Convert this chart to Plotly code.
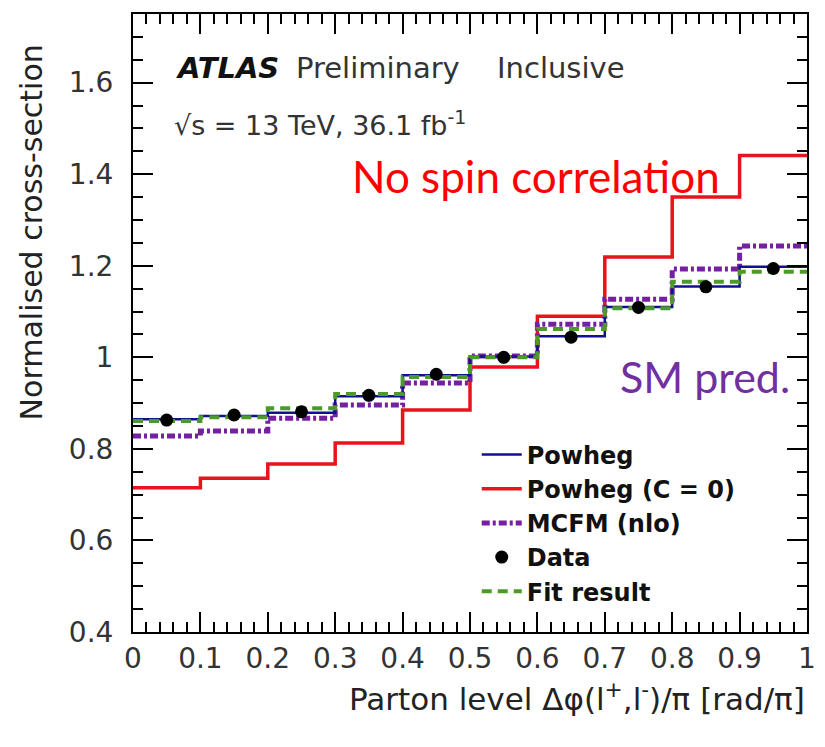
import plotly.graph_objects as go

# ---- data ----
bin_edges = [0.0, 0.1, 0.2, 0.3, 0.4, 0.5, 0.6, 0.7, 0.8, 0.9, 1.0]
bin_centers = [0.05, 0.15, 0.25, 0.35, 0.45, 0.55, 0.65, 0.75, 0.85, 0.95]

powheg = [0.865, 0.872, 0.879, 0.915, 0.961, 1.002, 1.046, 1.110, 1.155, 1.198]
powheg_c0 = [0.715, 0.736, 0.767, 0.813, 0.885, 0.979, 1.090, 1.219, 1.350, 1.441]
mcfm = [0.828, 0.839, 0.867, 0.896, 0.944, 1.003, 1.072, 1.127, 1.193, 1.243]
fit_result = [0.861, 0.869, 0.889, 0.920, 0.957, 1.000, 1.062, 1.107, 1.165, 1.187]
data_vals = [0.863, 0.874, 0.881, 0.917, 0.963, 1.000, 1.044, 1.109, 1.154, 1.194]
data_err = [0.013, 0.013, 0.013, 0.013, 0.013, 0.013, 0.013, 0.013, 0.013, 0.013]

y_tickvals = [0.4, 0.6, 0.8, 1.0, 1.2, 1.4, 1.6]
y_ticktext = ["0.4", "0.6", "0.8", "1", "1.2", "1.4", "1.6"]
x_tickvals = [0.0, 0.1, 0.2, 0.3, 0.4, 0.5, 0.6, 0.7, 0.8, 0.9, 1.0]
x_ticktext = ["0", "0.1", "0.2", "0.3", "0.4", "0.5", "0.6", "0.7", "0.8", "0.9", "1"]

SANS = "DejaVu Sans"


def step_y(vals):
    return list(vals) + [vals[-1]]


fig = go.Figure()

fig.add_trace(go.Scatter(
    x=bin_edges, y=step_y(powheg_c0), mode="lines", line_shape="hv",
    line=dict(color="#e8141c", width=3.5), name="Powheg (C = 0)", legendrank=2))
fig.add_trace(go.Scatter(
    x=bin_edges, y=step_y(mcfm), mode="lines", line_shape="hv",
    line=dict(color="#7520a0", width=5, dash="8px,3px,3px,3px"), name="MCFM (nlo)", legendrank=3))
fig.add_trace(go.Scatter(
    x=bin_edges, y=step_y(powheg), mode="lines", line_shape="hv",
    line=dict(color="#101090", width=2.5), name="Powheg", legendrank=1))
fig.add_trace(go.Scatter(
    x=bin_edges, y=step_y(fit_result), mode="lines", line_shape="hv",
    line=dict(color="#4c9a2a", width=4, dash="10px,6px"), name="Fit result", legendrank=5))
fig.add_trace(go.Scatter(
    x=bin_centers, y=data_vals, mode="markers",
    marker=dict(color="black", size=13),
    error_y=dict(type="data", array=data_err, color="black", thickness=2, width=0),
    name="Data", legendrank=4))

axis_common = dict(
    showline=True, linewidth=2, linecolor="black", mirror="allticks",
    ticks="inside", tickcolor="black", tickwidth=1.5, ticklen=20,
    showgrid=False, zeroline=False,
    tickfont=dict(family=SANS, size=28, color="#333"),
)

fig.update_xaxes(
    range=[0, 1], tickvals=x_tickvals, ticktext=x_ticktext,
    minor=dict(ticks="inside", dtick=0.02, tick0=0, ticklen=10, tickcolor="black", tickwidth=1.5),
    **axis_common)
fig.update_yaxes(
    range=[0.4, 1.75], tickvals=y_tickvals, ticktext=y_ticktext,
    minor=dict(ticks="inside", dtick=0.05, tick0=0.4, ticklen=10, tickcolor="black", tickwidth=1.5),
    ticklabelstandoff=12,
    **axis_common)

annotations = [
    dict(x=0.061, y=1.632, text="<b><i>ATLAS</i></b>", font=dict(family=SANS, size=29, color="#111"),
         xanchor="left", yanchor="middle", xref="x", yref="y"),
    dict(x=0.239, y=1.632, text="Preliminary", font=dict(family=SANS, size=29, color="#333"),
         xanchor="left", yanchor="middle", xref="x", yref="y"),
    dict(x=0.537, y=1.632, text="Inclusive", font=dict(family=SANS, size=29, color="#333"),
         xanchor="left", yanchor="middle", xref="x", yref="y"),
    dict(x=0.058, y=1.51, text="√s = 13 TeV, 36.1 fb<sup>-1</sup>", font=dict(family=SANS, size=27, color="#333"),
         xanchor="left", yanchor="middle", xref="x", yref="y"),
    dict(x=0.322, y=1.396, text="No spin correlation", font=dict(family="Lato", size=44, color="#ff0000"),
         xanchor="left", yanchor="middle", xref="x", yref="y"),
    dict(x=0.72, y=0.959, text="SM pred.", font=dict(family="Lato", size=43, color="#7030a0"),
         xanchor="left", yanchor="middle", xref="x", yref="y"),
    dict(x=1.0, y=-0.105, text="Parton level Δφ(l<sup>+</sup>,l<sup>-</sup>)/π [rad/π]",
         font=dict(family=SANS, size=31, color="#222"), xanchor="right", yanchor="middle",
         xref="paper", yref="paper"),
    dict(x=-0.151, y=0.647, text="Normalised cross-section", textangle=-90,
         font=dict(family=SANS, size=30, color="#222"), xanchor="center", yanchor="middle",
         xref="paper", yref="paper"),
]
for a in annotations:
    a.update(showarrow=False)

fig.update_layout(
    width=825, height=747,
    margin=dict(l=133, r=9, t=14, b=115),
    paper_bgcolor="white", plot_bgcolor="white",
    annotations=annotations,
    showlegend=True,
    legend=dict(
        x=0.51, y=0.323, xanchor="left", yanchor="top",
        bgcolor="rgba(0,0,0,0)", borderwidth=0,
        font=dict(family=SANS, size=24, color="#111", weight="bold"),
        traceorder="normal", itemwidth=40, tracegroupgap=0,
    ),
)

fig.write_html("out.html")
